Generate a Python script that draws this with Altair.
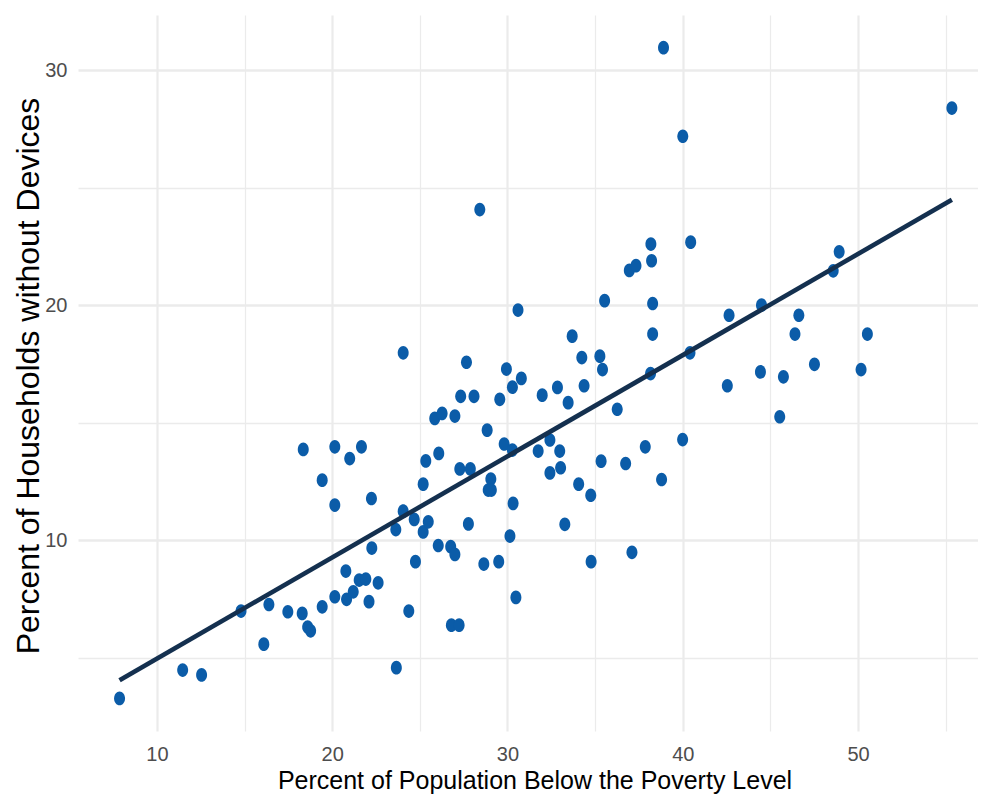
import altair as alt
import pandas as pd

# Percent of population below poverty level (x) and percent of households without devices (y)
poverty = [
    7.87, 11.47, 12.55, 14.80, 16.10, 16.39, 17.47, 18.29, 18.60, 18.77,
    19.43, 20.15, 18.35, 19.43, 20.15, 20.15, 21.00, 21.67, 22.24, 20.78,
    20.82, 21.20, 21.54, 21.92, 22.10, 22.26, 22.62, 24.05, 23.63, 24.68,
    24.37, 24.75, 25.19, 25.48, 25.19, 25.34, 26.08, 25.85, 26.27, 27.00,
    27.33, 28.09, 26.05, 26.76, 27.00, 27.28, 27.88, 26.80, 27.24, 27.77,
    28.65, 29.50, 28.84, 29.05, 28.90, 29.08, 29.56, 30.28, 30.79, 29.81,
    30.28, 30.32, 30.14, 30.48, 31.98, 32.85, 33.46, 31.75, 32.42, 32.98,
    32.42, 33.03, 33.27, 28.42, 30.60, 24.05, 27.66, 29.94, 38.18, 38.22,
    36.95, 37.33, 40.45, 35.54, 38.28, 38.28, 33.69, 34.24, 35.27, 35.42,
    38.16, 40.41, 42.64, 42.54, 44.43, 34.37, 36.26, 34.06, 34.75, 35.34,
    36.74, 37.86, 38.79, 39.99, 48.92, 48.58, 44.49, 46.62, 46.40, 50.53,
    45.74, 47.51, 50.17, 45.53, 38.90, 40.00, 55.35, 34.77, 37.10, 23.66,
]
no_devices = [
    3.26, 4.47, 4.26, 6.98, 5.57, 7.26, 6.95, 6.88, 6.30, 6.14,
    7.16, 7.59, 13.86, 12.55, 13.97, 11.49, 13.47, 13.97, 11.77, 8.68,
    7.48, 7.80, 8.30, 8.34, 7.38, 9.66, 8.18, 11.23, 10.45, 10.88,
    6.98, 9.08, 10.35, 10.78, 12.38, 13.37, 13.69, 15.18, 15.39, 15.28,
    16.12, 16.12, 9.77, 9.72, 9.39, 13.03, 13.03, 6.38, 6.38, 10.69,
    8.98, 9.08, 14.68, 12.60, 12.13, 12.13, 15.99, 16.51, 16.88, 14.09,
    13.83, 11.56, 10.17, 7.56, 16.17, 16.50, 15.85, 13.79, 14.26, 13.79,
    12.86, 13.08, 10.67, 24.07, 19.79, 17.97, 17.57, 17.28, 22.60, 21.89,
    21.48, 21.68, 22.68, 20.19, 20.07, 18.77, 18.68, 17.77, 17.83, 17.26,
    17.09, 17.97, 19.57, 16.57, 17.16, 16.57, 15.57, 12.38, 11.91, 13.36,
    13.26, 13.97, 12.58, 14.28, 22.27, 21.46, 20.00, 19.57, 18.77, 18.77,
    16.95, 17.48, 17.26, 15.25, 30.96, 27.19, 28.39, 9.08, 9.48, 4.57,
]

x_ticks = [10, 15, 20, 25, 30, 35, 40, 45, 50, 55]
y_ticks = [5, 10, 15, 20, 25, 30]

x_title = "Percent of Population Below the Poverty Level"
y_title = "Percent of Households without Devices"

df = pd.DataFrame({"poverty": poverty, "devices": no_devices})

font = "Liberation Sans, Arial, sans-serif"
major = "datum.value % 10 == 0"

x_axis = alt.Axis(
    values=x_ticks,
    title=x_title,
    labelExpr=f"{major} ? datum.label : ''",
    grid=True,
    gridColor="#EBEBEB",
    gridWidth={"condition": {"test": major, "value": 2.2}, "value": 1.2},
    domain=False,
    ticks=False,
    tickSize=0,
    labelPadding=23,
    labelBaseline="middle",
    labelFont=font,
    labelFontSize=20,
    labelColor="#4D4D4D",
    labelFlush=False,
    labelOverlap=False,
    titleFont=font,
    titleFontSize=25,
    titleFontWeight="normal",
    titleColor="#000000",
    titleX=456.5,
    titleY=57,
    titleAlign="center",
    titleBaseline="alphabetic",
)

y_axis = alt.Axis(
    values=y_ticks,
    title=y_title,
    labelExpr=f"{major} ? datum.label : ''",
    grid=True,
    gridColor="#EBEBEB",
    gridWidth={"condition": {"test": major, "value": 2.6}, "value": 1.5},
    domain=False,
    ticks=False,
    tickSize=0,
    labelPadding=11,
    labelFont=font,
    labelFontSize=20,
    labelColor="#4D4D4D",
    labelFlush=False,
    labelOverlap=False,
    titleFont=font,
    titleFontSize=32,
    titleFontWeight="normal",
    titleColor="#000000",
    titleAngle=270,
    titleX=-40,
    titleY=360.5,
    titleAlign="center",
    titleBaseline="alphabetic",
)

x_enc = alt.X("poverty:Q", scale=alt.Scale(domain=[5.5, 56.84], nice=False, zero=False), axis=x_axis)
y_enc = alt.Y("devices:Q", scale=alt.Scale(domain=[1.875, 32.35], nice=False, zero=False), axis=y_axis)

ellipse = "M-1,0A1,1.25,0,1,0,1,0A1,1.25,0,1,0,-1,0Z"

points = alt.Chart(df).mark_point(
    shape=ellipse, filled=True, size=120, color="#0B5CA8", opacity=1, strokeWidth=0
).encode(x=x_enc, y=y_enc)

fit = alt.Chart(df).transform_regression("poverty", "devices").mark_line(
    color="#14304F", strokeWidth=4.6
).encode(x=alt.X("poverty:Q"), y=alt.Y("devices:Q"))

chart = alt.layer(points, fit).properties(
    width=900,
    height=716,
    autosize=alt.AutoSizeParams(type="none"),
    padding={"left": 70, "top": 7, "right": 0, "bottom": 63},
    background="white",
).configure_view(stroke=None)

chart.save("out.html", embed_options={"renderer": "svg", "actions": False})
